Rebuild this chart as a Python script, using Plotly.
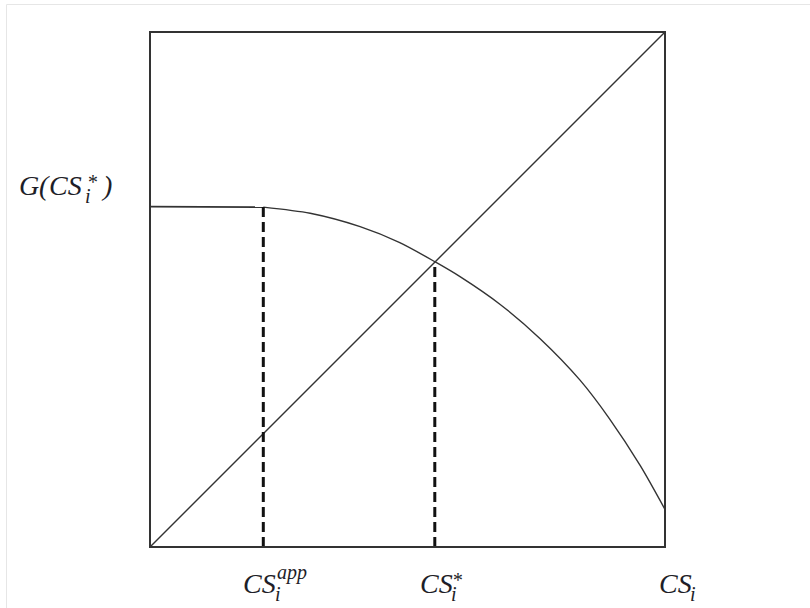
import plotly.graph_objects as go

# ---- data (unit square) ----
cs_app = 0.220
cs_star = 0.553
flat_x = [0.0, 0.220]
flat_y = [0.661, 0.660]
curve_x = [0.220, 0.311, 0.408, 0.485, 0.553, 0.602, 0.680, 0.757, 0.835, 0.893, 0.952, 1.0]
curve_y = [0.660, 0.648, 0.622, 0.591, 0.554, 0.525, 0.471, 0.405, 0.324, 0.248, 0.158, 0.073]
diag_x = [0.0, 1.0]
diag_y = [0.0, 1.0]
g_app = flat_y[-1]

W, H = 810, 608
L, R, T, B = 150, 145, 32, 61
PW, PH = W - L - R, H - T - B


def px(xp):
    return (xp - L) / PW


def py(yp):
    return (H - B - yp) / PH


LINE = "#333333"
fig = go.Figure()
fig.add_trace(go.Scatter(x=diag_x, y=diag_y, mode="lines",
                         line=dict(color=LINE, width=1.4), hoverinfo="skip"))
fig.add_trace(go.Scatter(x=flat_x, y=flat_y, mode="lines",
                         line=dict(color=LINE, width=1.8), hoverinfo="skip"))
fig.add_trace(go.Scatter(x=curve_x, y=curve_y, mode="lines", line_shape="spline",
                         line=dict(color=LINE, width=1.4, smoothing=0.8), hoverinfo="skip"))
fig.add_trace(go.Scatter(x=[cs_app, cs_app], y=[0, g_app], mode="lines",
                         line=dict(color="#111111", width=3, dash="10px,5px"), hoverinfo="skip"))
fig.add_trace(go.Scatter(x=[cs_star, cs_star], y=[0, cs_star], mode="lines",
                         line=dict(color="#111111", width=3, dash="10px,5px"), hoverinfo="skip"))

shapes = [
    dict(type="rect", xref="paper", yref="paper", x0=0, y0=0, x1=1, y1=1,
         line=dict(color=LINE, width=2)),
    dict(type="line", xref="paper", yref="paper", x0=px(6.5), x1=px(812), y0=py(4.5), y1=py(4.5),
         line=dict(color="#e6e6e6", width=1)),
    dict(type="line", xref="paper", yref="paper", x0=px(6.5), x1=px(6.5), y0=py(4.5), y1=py(612),
         line=dict(color="#e6e6e6", width=1)),
]

FONT = "Liberation Serif"
TXT = "#1e1e28"
BIG, SMALL = 28, 20
ann = []


def txt(s, xp, yp, size):
    ann.append(dict(text="<i>" + s + "</i>", x=px(xp), y=py(yp), xref="paper", yref="paper",
                    xanchor="left", yanchor="middle", showarrow=False,
                    font=dict(family=FONT, size=size, color=TXT)))


txt("CS", 241, 583, BIG)
txt("i", 273, 594, SMALL)
txt("app", 275, 572, SMALL)

txt("CS", 418, 583, BIG)
txt("i", 449, 594, SMALL)
txt("*", 450, 580, SMALL)

txt("CS", 657, 583, BIG)
txt("i", 688, 594, SMALL)

# y label G(CS_i^*)
txt("G", 17, 185, BIG)
txt("(", 37, 185, BIG)
txt("CS", 47, 185, BIG)
txt("i", 83, 196, SMALL)
txt("*", 85, 182, SMALL)
txt(")", 99, 185, BIG)

fig.update_layout(
    width=W, height=H,
    margin=dict(l=L, r=R, t=T, b=B, pad=0),
    paper_bgcolor="white", plot_bgcolor="white",
    showlegend=False,
    shapes=shapes, annotations=ann,
    xaxis=dict(range=[0, 1], showgrid=False, zeroline=False, showticklabels=False,
               ticks="", showline=False, fixedrange=True),
    yaxis=dict(range=[0, 1], showgrid=False, zeroline=False, showticklabels=False,
               ticks="", showline=False, fixedrange=True),
)
fig.write_html("out.html", config={"displayModeBar": False},
               post_script="document.body.style.margin='0px';document.body.style.overflow='hidden';")
